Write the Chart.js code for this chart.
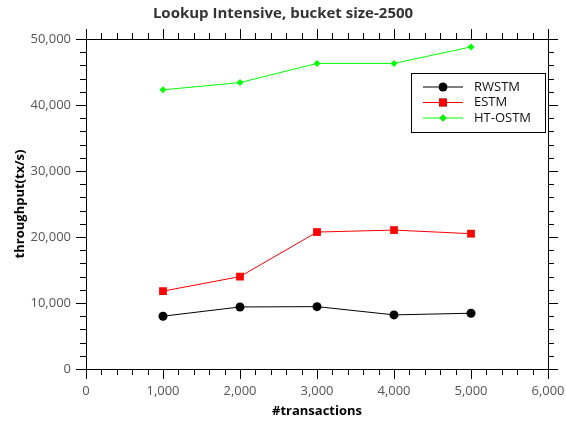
<!DOCTYPE html>
<html>
<head>
<meta charset="utf-8">
<script src="https://cdn.jsdelivr.net/npm/chart.js@4"></script>
<style>
  html, body { margin: 0; padding: 0; background: #fff; }
  #wrap { width: 566px; height: 423px; }
</style>
</head>
<body>
<div id="wrap"><canvas id="chart" width="566" height="423"></canvas></div>
<script>
// ===== DATA =====
let transactions = [1000, 2000, 3000, 4000, 5000];
let rwstm = [8000, 9400, 9450, 8200, 8450];
let estm = [11800, 14000, 20750, 21050, 20500];
let htostm = [42300, 43400, 46300, 46300, 48800];
let seriesNames = ["RWSTM", "ESTM", "HT-OSTM"];
let xTicks = [0, 1000, 2000, 3000, 4000, 5000, 6000];
let yTicks = [0, 10000, 20000, 30000, 40000, 50000];

const FONT = "'Open Sans', 'DejaVu Sans', sans-serif";

function pts(ys) {
  return transactions.map((x, i) => ({ x: x, y: ys[i] }));
}

function fmt(v) {
  return v.toLocaleString("en-US");
}

// ===== FRAME + TICKS + LEGEND =====
const framePlugin = {
  id: "frame",
  afterDraw(chart) {
    let ctx = chart.ctx;
    let a = chart.chartArea;
    let xs = chart.scales.x, ys = chart.scales.y;
    ctx.save();
    ctx.strokeStyle = "#000";
    ctx.lineWidth = 1;
    ctx.beginPath();
    ctx.rect(Math.round(a.left) + 0.5, Math.round(a.top) + 0.5,
      Math.round(a.right - a.left), Math.round(a.bottom - a.top));
    ctx.stroke();

    // x ticks, top and bottom, every 200
    for (let v = 0; v <= 6000; v += 200) {
      let len = v % 1000 === 0 ? 10 : 6;
      let px = Math.round(xs.getPixelForValue(v)) + 0.5;
      ctx.beginPath();
      ctx.moveTo(px, a.bottom); ctx.lineTo(px, a.bottom + len);
      ctx.moveTo(px, a.top); ctx.lineTo(px, a.top - len);
      ctx.stroke();
    }
    // y ticks, left and right, every 2000
    for (let v = 0; v <= 50000; v += 2000) {
      let len = v % 10000 === 0 ? 10 : 6;
      let py = Math.round(ys.getPixelForValue(v)) + 0.5;
      ctx.beginPath();
      ctx.moveTo(a.left, py); ctx.lineTo(a.left - len, py);
      ctx.moveTo(a.right, py); ctx.lineTo(a.right + len, py);
      ctx.stroke();
    }

    // legend box
    let bx = 411.5, by = 73.5, bw = 134, bh = 59;
    ctx.fillStyle = "#fff";
    ctx.fillRect(bx, by, bw, bh);
    ctx.strokeRect(bx, by, bw, bh);
    chart.data.datasets.forEach((ds, i) => {
      let y = 87 + i * 15.5;
      ctx.strokeStyle = ds.borderColor;
      ctx.beginPath();
      ctx.moveTo(423, y); ctx.lineTo(463, y);
      ctx.stroke();
      Chart.helpers.drawPoint(ctx, {
        pointStyle: ds.pointStyle,
        radius: ds.pointRadius,
        borderWidth: 0
      }, 443, y);
      ctx.fillStyle = ds.backgroundColor;
      ctx.fill();
      ctx.fillStyle = "#111";
      ctx.font = "13px " + FONT;
      ctx.textBaseline = "middle";
      ctx.fillText(ds.label, 474, y);
    });
    ctx.restore();
  }
};

new Chart(document.getElementById("chart"), {
  type: "line",
  data: {
    datasets: [
      { label: seriesNames[0], data: pts(rwstm), borderColor: "#000", backgroundColor: "#000",
        pointStyle: "circle", pointRadius: 4.5, borderWidth: 1, pointBorderWidth: 0 },
      { label: seriesNames[1], data: pts(estm), borderColor: "#ff0000", backgroundColor: "#ff0000",
        pointStyle: "rect", pointRadius: 5.5, borderWidth: 1, pointBorderWidth: 0 },
      { label: seriesNames[2], data: pts(htostm), borderColor: "#00ff00", backgroundColor: "#00ff00",
        pointStyle: "rectRot", pointRadius: 3.5, borderWidth: 1, pointBorderWidth: 0 }
    ]
  },
  options: {
    responsive: false,
    animation: false,
    layout: { padding: { left: 9, right: 9, top: 0, bottom: 0 } },
    plugins: {
      legend: { display: false },
      tooltip: { enabled: false },
      title: {
        display: true,
        text: "Lookup Intensive, bucket size-2500",
        color: "#333",
        font: { family: FONT, size: 15, weight: "bold" },
        padding: { top: 5, bottom: 16 }
      }
    },
    scales: {
      x: {
        type: "linear",
        min: 0, max: 6000,
        afterBuildTicks: s => { s.ticks = xTicks.map(v => ({ value: v })); },
        afterFit: s => { s.height = 54; s.paddingRight = 18; s.paddingLeft = 0; },
        grid: { display: false, drawTicks: false },
        border: { display: false },
        ticks: {
          padding: 14,
          color: "#555",
          font: { family: FONT, size: 13 },
          callback: v => fmt(v),
          maxRotation: 0
        },
        title: {
          display: true,
          text: "#transactions",
          color: "#000",
          font: { family: FONT, size: 13, weight: "bold" },
          padding: { top: 0, bottom: 4 }
        }
      },
      y: {
        min: 0, max: 50000,
        afterBuildTicks: s => { s.ticks = yTicks.map(v => ({ value: v })); },
        afterFit: s => { s.width = 77; s.paddingTop = 0; s.paddingBottom = 0; },
        grid: { display: false, drawTicks: false },
        border: { display: false },
        ticks: {
          padding: 15,
          color: "#555",
          font: { family: FONT, size: 13 },
          callback: v => fmt(v)
        },
        title: {
          display: true,
          text: "throughput(tx/s)",
          color: "#000",
          font: { family: FONT, size: 13, weight: "bold" },
          padding: { top: 3, bottom: 4 }
        }
      }
    }
  },
  plugins: [framePlugin]
});
</script>
</body>
</html>
